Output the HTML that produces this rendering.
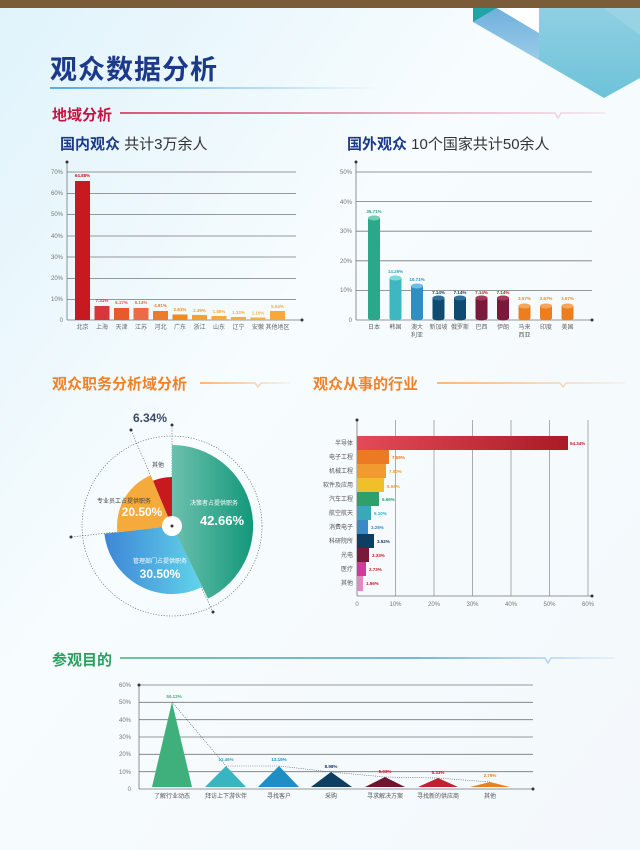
<!DOCTYPE html>
<html><head><meta charset="utf-8"><style>
html,body{margin:0;padding:0;width:640px;height:850px;overflow:hidden;}
svg{display:block;font-family:"Liberation Sans","Noto Sans CJK SC",sans-serif;}
</style></head><body>
<svg width="640" height="850" viewBox="0 0 640 850" xmlns="http://www.w3.org/2000/svg">
<defs>
<linearGradient id="bg" x1="0" y1="0" x2="1" y2="1"><stop offset="0" stop-color="#dff3fb"/><stop offset="0.4" stop-color="#f7fcfe"/><stop offset="1" stop-color="#f3f8fc"/></linearGradient>
<linearGradient id="ul" x1="0" x2="1"><stop offset="0" stop-color="#5aa9e6"/><stop offset="1" stop-color="#5aa9e6" stop-opacity="0"/></linearGradient>
<linearGradient id="redl" x1="0" x2="1"><stop offset="0" stop-color="#d2204f"/><stop offset="1" stop-color="#d2204f" stop-opacity="0.1"/></linearGradient>
<linearGradient id="orl" x1="0" x2="1"><stop offset="0" stop-color="#f7a053"/><stop offset="1" stop-color="#f7a053" stop-opacity="0.1"/></linearGradient>
<linearGradient id="grl" x1="0" x2="1"><stop offset="0" stop-color="#3bb27a"/><stop offset="0.6" stop-color="#4aa0d8"/><stop offset="1" stop-color="#4aa0d8" stop-opacity="0.1"/></linearGradient>
<linearGradient id="gG" x1="0" x2="1"><stop offset="0" stop-color="#6cc0ae"/><stop offset="1" stop-color="#13987a"/></linearGradient>
<linearGradient id="gB" x1="0" x2="1"><stop offset="0" stop-color="#3d86d6"/><stop offset="1" stop-color="#62d4ea"/></linearGradient>
<linearGradient id="hb" x1="0" x2="1"><stop offset="0" stop-color="#e44a58"/><stop offset="1" stop-color="#a91b26"/></linearGradient>
<linearGradient id="dL" x1="0" y1="0" x2="0" y2="1"><stop offset="0" stop-color="#6fb0dc"/><stop offset="1" stop-color="#9ccbe8"/></linearGradient>
<linearGradient id="dR" x1="0" y1="0" x2="0" y2="1"><stop offset="0" stop-color="#90cfe3"/><stop offset="1" stop-color="#6dc3d8"/></linearGradient>
</defs>
<rect width="640" height="850" fill="url(#bg)"/>
<rect width="640" height="8" fill="#7a5c38"/>
<!-- decoration -->
<polygon points="473,22 497,8 539,33 539,60" fill="url(#dL)"/>
<polygon points="497,8 539,8 539,33" fill="#ffffff"/>
<polygon points="539,8 640,8 640,78 604,98 539,60" fill="url(#dR)"/>
<polygon points="603,8 640,8 640,35" fill="#9ed5e6" opacity="0.7"/>
<polygon points="473,8 497,8 473,22" fill="#22a3a5"/>
<!-- title -->
<text x="50" y="79" font-size="27" font-weight="bold" fill="#1d3a8a" letter-spacing="1">观众数据分析</text>
<rect x="50" y="87" width="330" height="2" fill="url(#ul)"/>
<text x="52" y="120" font-size="15" font-weight="bold" fill="#c8133f">地域分析</text>
<path d="M120 113 H555 L558 118 L561 113 H605" stroke="url(#redl)" stroke-width="1.5" fill="none"/>
<text x="60" y="149" font-size="15" font-weight="bold" fill="#1d3a8a">国内观众 <tspan font-weight="normal" fill="#333">共计3万余人</tspan></text>
<text x="347" y="149" font-size="15" font-weight="bold" fill="#1d3a8a">国外观众 <tspan font-weight="normal" fill="#333">10个国家共计50余人</tspan></text>

<!-- domestic chart -->
<g font-size="6" fill="#777" text-anchor="end">
<g stroke="#777" stroke-width="0.8">
<line x1="67" y1="172" x2="296" y2="172"/><line x1="67" y1="193.5" x2="296" y2="193.5"/><line x1="67" y1="214.5" x2="296" y2="214.5"/><line x1="67" y1="236" x2="296" y2="236"/><line x1="67" y1="257" x2="296" y2="257"/><line x1="67" y1="278.5" x2="296" y2="278.5"/><line x1="67" y1="299.5" x2="296" y2="299.5"/><line x1="67" y1="320" x2="302" y2="320"/><line x1="67" y1="162" x2="67" y2="320"/>
</g>
<circle cx="67" cy="162" r="1.5" fill="#333"/><circle cx="302" cy="320" r="1.5" fill="#333"/>
<text x="63" y="174">70%</text><text x="63" y="195">60%</text><text x="63" y="216">50%</text><text x="63" y="238">40%</text><text x="63" y="259">30%</text><text x="63" y="280">20%</text><text x="63" y="301">10%</text><text x="63" y="322">0</text>
</g>
<g font-size="4.5" font-weight="bold" text-anchor="middle">
<rect x="75" y="181" width="15" height="139" fill="#c8191f"/><text x="82.5" y="177" fill="#c8191f">64.88%</text>
<rect x="94.5" y="306" width="15" height="14" fill="#d9363a"/><text x="102" y="302" fill="#d9363a">7.31%</text>
<rect x="114" y="308" width="15" height="12" fill="#e85a2a"/><text x="121.5" y="304" fill="#e85a2a">5.17%</text>
<rect x="133.5" y="308" width="15" height="12" fill="#ec6a45"/><text x="141" y="304" fill="#ec6a45">5.14%</text>
<rect x="153" y="311" width="15" height="9" fill="#ef7a2a"/><text x="160.5" y="307" fill="#ef7a2a">4.91%</text>
<rect x="172.5" y="314.5" width="15" height="5.5" fill="#f08a1c"/><text x="180" y="311" fill="#f08a1c">2.61%</text>
<rect x="192" y="315" width="15" height="5" fill="#f4a030"/><text x="199.5" y="312" fill="#f4a030">2.39%</text>
<rect x="211.5" y="316" width="15" height="4" fill="#f5a83c"/><text x="219" y="313" fill="#f5a83c">1.88%</text>
<rect x="231" y="317" width="15" height="3" fill="#f6ad3f"/><text x="238.5" y="314" fill="#f6ad3f">1.33%</text>
<rect x="250.5" y="317.5" width="15" height="2.5" fill="#f7b040"/><text x="258" y="314.5" fill="#f7b040">1.10%</text>
<rect x="270" y="311" width="15" height="9" fill="#f6a93a"/><text x="277.5" y="308" fill="#f6a93a">5.04%</text>
</g>
<g font-size="6" fill="#666" text-anchor="middle">
<text x="82.5" y="329">北京</text><text x="102" y="329">上海</text><text x="121.5" y="329">天津</text><text x="141" y="329">江苏</text><text x="160.5" y="329">河北</text><text x="180" y="329">广东</text><text x="199.5" y="329">浙江</text><text x="219" y="329">山东</text><text x="238.5" y="329">辽宁</text><text x="258" y="329">安徽</text><text x="277.5" y="329">其他地区</text>
</g>

<!-- foreign chart -->
<g font-size="6" fill="#777" text-anchor="end">
<g stroke="#777" stroke-width="0.8">
<line x1="356" y1="172" x2="592" y2="172"/><line x1="356" y1="201.6" x2="592" y2="201.6"/><line x1="356" y1="231.2" x2="592" y2="231.2"/><line x1="356" y1="260.8" x2="592" y2="260.8"/><line x1="356" y1="290.4" x2="592" y2="290.4"/><line x1="356" y1="320" x2="592" y2="320"/><line x1="356" y1="162" x2="356" y2="320"/>
</g>
<circle cx="356" cy="162" r="1.5" fill="#333"/><circle cx="592" cy="320" r="1.5" fill="#333"/>
<text x="352" y="174">50%</text><text x="352" y="204">40%</text><text x="352" y="233">30%</text><text x="352" y="263">20%</text><text x="352" y="292">10%</text><text x="352" y="322">0</text>
</g>
<g font-size="4.5" font-weight="bold" text-anchor="middle">
<rect x="368" y="218" width="12" height="100" fill="#2aa88a"/><ellipse cx="374" cy="318" rx="6" ry="2.5" fill="#2aa88a"/><ellipse cx="374" cy="218" rx="6" ry="2.5" fill="#6fd0b5"/><text x="374" y="213" fill="#2aa88a">35.71%</text>
<rect x="389.5" y="278" width="12" height="40" fill="#3fb7c1"/><ellipse cx="395.5" cy="318" rx="6" ry="2.5" fill="#3fb7c1"/><ellipse cx="395.5" cy="278" rx="6" ry="2.5" fill="#80d8dd"/><text x="395.5" y="273" fill="#3fa0c8">14.29%</text>
<rect x="411" y="286" width="12" height="32" fill="#2d8fc4"/><ellipse cx="417" cy="318" rx="6" ry="2.5" fill="#2d8fc4"/><ellipse cx="417" cy="286" rx="6" ry="2.5" fill="#6fbde6"/><text x="417" y="281" fill="#2d8fc4">10.71%</text>
<rect x="432.5" y="298" width="12" height="20" fill="#0f4a70"/><ellipse cx="438.5" cy="318" rx="6" ry="2.5" fill="#0f4a70"/><ellipse cx="438.5" cy="298" rx="6" ry="2.5" fill="#2f6f98"/><text x="438.5" y="294" fill="#1d3a6a">7.14%</text>
<rect x="454" y="298" width="12" height="20" fill="#0f4a70"/><ellipse cx="460" cy="318" rx="6" ry="2.5" fill="#0f4a70"/><ellipse cx="460" cy="298" rx="6" ry="2.5" fill="#2f6f98"/><text x="460" y="294" fill="#1d3a6a">7.14%</text>
<rect x="475.5" y="298" width="12" height="20" fill="#7a1a3a"/><ellipse cx="481.5" cy="318" rx="6" ry="2.5" fill="#7a1a3a"/><ellipse cx="481.5" cy="298" rx="6" ry="2.5" fill="#a33a5a"/><text x="481.5" y="294" fill="#c8191f">7.14%</text>
<rect x="497" y="298" width="12" height="20" fill="#7a1a3a"/><ellipse cx="503" cy="318" rx="6" ry="2.5" fill="#7a1a3a"/><ellipse cx="503" cy="298" rx="6" ry="2.5" fill="#a33a5a"/><text x="503" y="294" fill="#c8191f">7.14%</text>
<rect x="518.5" y="306" width="12" height="12" fill="#ee7d1e"/><ellipse cx="524.5" cy="318" rx="6" ry="2.5" fill="#ee7d1e"/><ellipse cx="524.5" cy="306" rx="6" ry="2.5" fill="#f6a55a"/><text x="524.5" y="300" fill="#f08a1c">3.57%</text>
<rect x="540" y="306" width="12" height="12" fill="#ee7d1e"/><ellipse cx="546" cy="318" rx="6" ry="2.5" fill="#ee7d1e"/><ellipse cx="546" cy="306" rx="6" ry="2.5" fill="#f6a55a"/><text x="546" y="300" fill="#f08a1c">3.57%</text>
<rect x="561.5" y="306" width="12" height="12" fill="#ee7d1e"/><ellipse cx="567.5" cy="318" rx="6" ry="2.5" fill="#ee7d1e"/><ellipse cx="567.5" cy="306" rx="6" ry="2.5" fill="#f6a55a"/><text x="567.5" y="300" fill="#f08a1c">3.57%</text>
</g>
<g font-size="6" fill="#666" text-anchor="middle">
<text x="374" y="329">日本</text><text x="395.5" y="329">韩国</text><text x="417" y="329">澳大</text><text x="417" y="337">利亚</text><text x="438.5" y="329">新加坡</text><text x="460" y="329">俄罗斯</text><text x="481.5" y="329">巴西</text><text x="503" y="329">伊朗</text><text x="524.5" y="329">马来</text><text x="524.5" y="337">西亚</text><text x="546" y="329">印度</text><text x="567.5" y="329">美国</text>
</g>

<!-- section titles -->
<text x="52" y="389" font-size="15" font-weight="bold" fill="#f0822a">观众职务分析域分析</text>
<path d="M200 383 H255 L258 387 L261 383 H290" stroke="url(#orl)" stroke-width="1.5" fill="none"/>
<text x="313" y="389" font-size="15" font-weight="bold" fill="#f0822a">观众从事的行业</text>
<path d="M437 383 H560 L563 387 L566 383 H625" stroke="url(#orl)" stroke-width="1.5" fill="none"/>

<!-- pie -->
<g fill="none" stroke="#556" stroke-width="0.6" stroke-dasharray="1.2,1.5">
<circle cx="172" cy="526" r="90"/>
<circle cx="172" cy="526" r="45" stroke="#ccd"/>
<line x1="172" y1="526" x2="172" y2="425"/>
<line x1="172" y1="526" x2="131" y2="430"/>
<line x1="172" y1="526" x2="71" y2="537"/>
<line x1="172" y1="526" x2="213" y2="612"/>
</g>
<path d="M172,526 L172,445 A81,81 0 0 1 208,598.6 Z" fill="url(#gG)"/>
<path d="M172,526 L202.2,586.9 A68,68 0 0 1 104.4,533.8 Z" fill="url(#gB)"/>
<path d="M172,526 L117.4,532.3 A55,55 0 0 1 150.7,475.3 Z" fill="#f5ab3c"/>
<path d="M172,526 L153,480.8 A49,49 0 0 1 172,477 Z" fill="#c8191f"/>
<circle cx="172" cy="526" r="10" fill="#fff"/>
<circle cx="172" cy="526" r="1.5" fill="#334"/>
<g fill="#334"><circle cx="172" cy="425" r="1.5"/><circle cx="131" cy="430" r="1.5"/><circle cx="71" cy="537" r="1.5"/><circle cx="213" cy="612" r="1.5"/></g>
<text x="150" y="422" font-size="12" font-weight="bold" fill="#3a4a6a" text-anchor="middle">6.34%</text>
<text x="158" y="467" font-size="6" fill="#444" text-anchor="middle">其他</text>
<text x="214" y="505" font-size="6" fill="#fff" text-anchor="middle">决策者占提供职务</text>
<text x="222" y="525" font-size="13" font-weight="bold" fill="#fff" text-anchor="middle">42.66%</text>
<text x="124" y="503" font-size="6" fill="#444" text-anchor="middle">专业员工占提供职务</text>
<text x="142" y="516" font-size="12" font-weight="bold" fill="#fff" text-anchor="middle">20.50%</text>
<text x="160" y="563" font-size="6" fill="#fff" text-anchor="middle">管理部门占提供职务</text>
<text x="160" y="578" font-size="12" font-weight="bold" fill="#fff" text-anchor="middle">30.50%</text>

<!-- industry -->
<g stroke="#999" stroke-width="0.8">
<line x1="395.5" y1="420" x2="395.5" y2="596"/><line x1="434" y1="420" x2="434" y2="596"/><line x1="472.5" y1="420" x2="472.5" y2="596"/><line x1="511" y1="420" x2="511" y2="596"/><line x1="549.5" y1="420" x2="549.5" y2="596"/><line x1="588" y1="420" x2="588" y2="596"/>
<line x1="357" y1="420" x2="357" y2="596" stroke="#777"/><line x1="357" y1="596" x2="592" y2="596" stroke="#777"/>
</g>
<circle cx="357" cy="420" r="1.5" fill="#333"/><circle cx="592" cy="596" r="1.5" fill="#333"/>
<g font-size="6" fill="#777" text-anchor="middle">
<text x="357" y="606">0</text><text x="395.5" y="606">10%</text><text x="434" y="606">20%</text><text x="472.5" y="606">30%</text><text x="511" y="606">40%</text><text x="549.5" y="606">50%</text><text x="588" y="606">60%</text>
</g>
<g font-size="6" fill="#555" text-anchor="end">
<text x="353" y="445">半导体</text><text x="353" y="459">电子工程</text><text x="353" y="473">机械工程</text><text x="353" y="487">软件及应用</text><text x="353" y="501">汽车工程</text><text x="353" y="515">航空航天</text><text x="353" y="529">消费电子</text><text x="353" y="543">科研院所</text><text x="353" y="557">光电</text><text x="353" y="571">医疗</text><text x="353" y="585">其他</text>
</g>
<g font-size="4.5" font-weight="bold">
<rect x="357" y="436" width="211" height="14" fill="url(#hb)"/><text x="570" y="445" fill="#c8191f">54.34%</text>
<rect x="357" y="450" width="32" height="14" fill="#ec7a24"/><text x="392" y="459" fill="#ec7a24">7.59%</text>
<rect x="357" y="464" width="29" height="14" fill="#f09a30"/><text x="389" y="473" fill="#f09a30">7.00%</text>
<rect x="357" y="478" width="27" height="14" fill="#f0c02a"/><text x="387" y="488" fill="#f0a020">6.55%</text>
<rect x="357" y="492" width="22" height="14" fill="#2fa06a"/><text x="382" y="501" fill="#2fa06a">5.66%</text>
<rect x="357" y="506" width="14" height="14" fill="#3aa8b8"/><text x="374" y="515" fill="#3aa8c8">5.10%</text>
<rect x="357" y="520" width="11" height="14" fill="#3a8ac8"/><text x="371" y="529" fill="#3a8ac8">3.28%</text>
<rect x="357" y="534" width="17" height="14" fill="#0f3f60"/><text x="377" y="543" fill="#1d3a6a">3.52%</text>
<rect x="357" y="548" width="12" height="14" fill="#7a1a3a"/><text x="372" y="557" fill="#c8191f">3.33%</text>
<rect x="357" y="562" width="9" height="14" fill="#d13a9a"/><text x="369" y="571" fill="#c8191f">2.73%</text>
<rect x="357" y="576" width="6" height="15" fill="#e28ac0"/><text x="366" y="585" fill="#c8191f">1.56%</text>
</g>

<!-- purpose -->
<text x="52" y="665" font-size="15" font-weight="bold" fill="#2aa060">参观目的</text>
<path d="M120 658 H545 L548 663 L551 658 H615" stroke="url(#grl)" stroke-width="1.5" fill="none"/>
<g stroke="#777" stroke-width="0.8">
<line x1="139" y1="685" x2="533" y2="685"/><line x1="139" y1="702.3" x2="533" y2="702.3"/><line x1="139" y1="719.7" x2="533" y2="719.7"/><line x1="139" y1="737" x2="533" y2="737"/><line x1="139" y1="754.3" x2="533" y2="754.3"/><line x1="139" y1="771.7" x2="533" y2="771.7"/><line x1="139" y1="789" x2="533" y2="789"/><line x1="139" y1="685" x2="139" y2="789"/>
</g>
<circle cx="139" cy="685" r="1.5" fill="#333"/><circle cx="533" cy="789" r="1.5" fill="#333"/>
<g font-size="6" fill="#777" text-anchor="end">
<text x="131" y="687">60%</text><text x="131" y="704">50%</text><text x="131" y="722">40%</text><text x="131" y="739">30%</text><text x="131" y="756">20%</text><text x="131" y="774">10%</text><text x="131" y="791">0</text>
</g>
<polygon points="152,787 172,702 192,787" fill="#3fb07c"/>
<polygon points="205,787 226,766 246,787" fill="#38b5c1"/>
<polygon points="258,787 279,766 299,787" fill="#1f8ec4"/>
<polygon points="311,787 331,772 352,787" fill="#0d3f63"/>
<polygon points="365,787 385,777 405,787" fill="#6e1530"/>
<polygon points="418,787 438,778 458,787" fill="#c0202f"/>
<polygon points="470,787 490,782 510,787" fill="#e8821e"/>
<polyline points="172,702 226,766 279,766 331,772 385,777 438,778 490,782" fill="none" stroke="#556" stroke-width="0.6" stroke-dasharray="1,1.2"/>
<g font-size="4.5" font-weight="bold" text-anchor="middle">
<text x="174" y="698" fill="#3fb07c">50.12%</text><text x="226" y="761" fill="#38a5c1">13.46%</text><text x="279" y="761" fill="#1f8ec4">13.15%</text><text x="331" y="768" fill="#1d3a6a">8.98%</text><text x="385" y="773" fill="#c8191f">5.93%</text><text x="438" y="774" fill="#c8191f">5.33%</text><text x="490" y="777" fill="#e8821e">2.79%</text>
</g>
<g font-size="6" fill="#555" text-anchor="middle">
<text x="172" y="798">了解行业动态</text><text x="226" y="798">拜访上下游伙伴</text><text x="279" y="798">寻找客户</text><text x="331" y="798">采购</text><text x="385" y="798">寻求解决方案</text><text x="438" y="798">寻找新的供应商</text><text x="490" y="798">其他</text>
</g>
</svg>
</body></html>
